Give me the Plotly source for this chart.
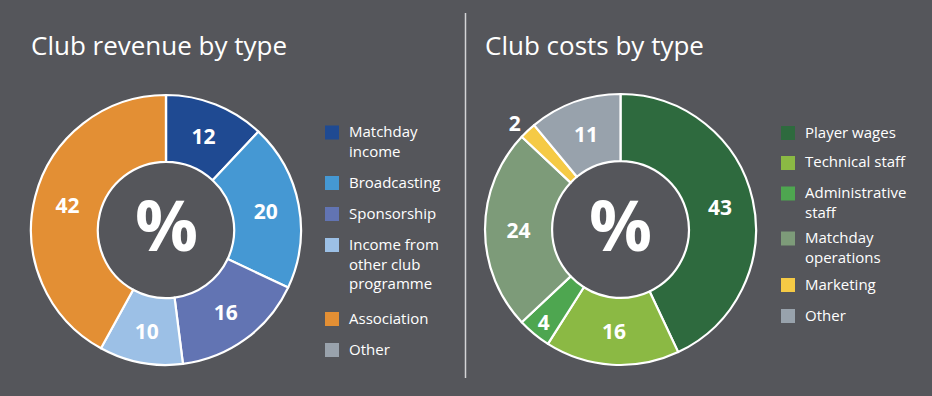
import plotly.graph_objects as go

# ---------------- data ----------------
rev_labels = ["Matchday<br>income", "Broadcasting", "Sponsorship",
              "Income from<br>other club<br>programme", "Association", "Other"]
rev_values = [12, 20, 16, 10, 42, 0]
rev_colors = ["#1f4a92", "#4598d3", "#6274b3", "#9cc0e6", "#e38f34", "#99a2ac"]

cost_labels = ["Player wages", "Technical staff", "Administrative<br>staff",
               "Matchday<br>operations", "Marketing", "Other"]
cost_values = [43, 16, 4, 24, 2, 11]
cost_colors = ["#2e6a3e", "#8bb944", "#4ea650", "#7d9b79", "#f5ca45", "#98a2ac"]

titles = ["Club revenue by type", "Club costs by type"]

# ---------------- layout helpers ----------------
W, H = 932, 396
BG = "#55565b"
FONT = "Open Sans"


def px(x):
    return x / W


def py(y):
    return 1 - y / H


def domain(cx, cy, r):
    return dict(x=[px(cx - r), px(cx + r)], y=[py(cy + r), py(cy - r)])


fig = go.Figure()

pies = [
    (rev_labels, rev_values, rev_colors, (166, 230, 135)),
    (cost_labels, cost_values, cost_colors, (620.5, 229.5, 135.5)),
]

for labels, values, colors, (cx, cy, r) in pies:
    text = [str(v) if v > 0 else "" for v in values]
    positions = ["inside" if v >= 4 else "outside" for v in values]
    fig.add_trace(go.Pie(
        labels=labels, values=values, text=text,
        textinfo="text", textposition=positions,
        insidetextorientation="horizontal",
        insidetextfont=dict(family=FONT, size=21, color="white", weight=700),
        outsidetextfont=dict(family=FONT, size=21, color="white", weight=700),
        marker=dict(colors=colors, line=dict(color="white", width=2.2)),
        hole=0.505, sort=False, direction="clockwise", rotation=0,
        domain=domain(cx, cy, r), showlegend=False, hoverinfo="label+value",
    ))
    fig.add_annotation(x=px(cx), y=py(cy - 6), xref="paper", yref="paper",
                       text="%", showarrow=False, xanchor="center", yanchor="middle",
                       font=dict(family=FONT, size=70, color="white", weight=700))

# titles
for t, x0 in zip(titles, [31, 485]):
    fig.add_annotation(x=px(x0 - 2), y=py(45), xref="paper", yref="paper",
                       text=t, showarrow=False, xanchor="left", yanchor="middle",
                       font=dict(family=FONT, size=26, color="white"))

# custom legends
legend_specs = [
    (rev_labels, rev_colors, 325, [132.5, 183, 214, 245, 319, 350]),
    (cost_labels, cost_colors, 781, [133, 163, 193.5, 238.5, 285, 316]),
]
LEG_FONT = 15
for labels, colors, sx, ys in legend_specs:
    for lab, col, yc in zip(labels, colors, ys):
        fig.add_shape(type="rect", xref="paper", yref="paper",
                      x0=px(sx), x1=px(sx + 14), y0=py(yc + 7), y1=py(yc - 7),
                      fillcolor=col, line=dict(width=0))
        fig.add_annotation(x=px(sx + 23), y=py(yc - 12.5), xref="paper", yref="paper",
                           text=lab, showarrow=False, xanchor="left", yanchor="top",
                           align="left", borderpad=0,
                           font=dict(family=FONT, size=LEG_FONT, color="white"))

# divider
fig.add_shape(type="line", xref="paper", yref="paper",
              x0=px(465.5), x1=px(465.5), y0=py(13), y1=py(378),
              line=dict(color="#d4d4d6", width=1.5))

fig.update_layout(width=W, height=H, margin=dict(l=0, r=0, t=0, b=0),
                  paper_bgcolor=BG, plot_bgcolor=BG,
                  font=dict(family=FONT, color="white"))

fig.write_html("out.html", config={"displayModeBar": False},
               post_script="document.body.style.margin='0';"
                           "document.body.style.background='%s';" % BG)
